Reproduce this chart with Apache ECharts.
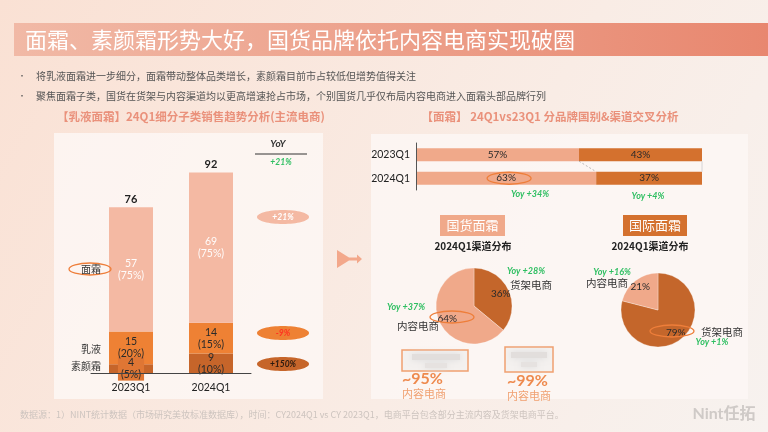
<!DOCTYPE html>
<html><head><meta charset="utf-8">
<script src="https://cdn.jsdelivr.net/npm/echarts@6/dist/echarts.min.js"></script>
<style>html,body{margin:0;padding:0;}#c{width:768px;height:432px;}</style>
</head><body><div id="c"></div>
<script>
// ---- data ----
const categories = ['2023Q1', '2024Q1'];
const suyanValues = [4, 9];
const ruyeValues = [15, 14];
const mianValues = [57, 69];
const suyanPct = [5, 10];
const ruyePct = [20, 15];
const mianPct = [75, 75];
const totals = [76, 92];
const yoyTotal = '+21%';
const yoyMian = '+21%';
const yoyRuye = '-9%';
const yoySuyan = '+150%';

const brandCats = ['2023Q1', '2024Q1'];
const domesticShare = [57, 63];
const intlShare = [43, 37];
const brandYoy = ['Yoy +34%', 'Yoy +4%'];

const pieDomestic = [{ name: '货架电商', value: 36 }, { name: '内容电商', value: 64 }];
const pieIntl = [{ name: '货架电商', value: 79 }, { name: '内容电商', value: 21 }];
const pieDomesticYoy = ['Yoy +28%', 'Yoy +37%'];
const pieIntlYoy = ['Yoy +1%', 'Yoy +16%'];
const contentShare = ['~95%', '~99%'];

const titleText = '面霜、素颜霜形势大好，国货品牌依托内容电商实现破圈';
const bullets = ['将乳液面霜进一步细分，面霜带动整体品类增长，素颜霜目前市占较低但增势值得关注',
  '聚焦面霜子类，国货在货架与内容渠道均以更高增速抢占市场，个别国货几乎仅布局内容电商进入面霜头部品牌行列'];
const footText = '数据源：1）NINT统计数据（市场研究美妆标准数据库），时间：CY2024Q1 vs CY 2023Q1，电商平台包含部分主流内容及货架电商平台。';

// ---- style ----
const CJK = '"Noto Sans CJK SC", "Noto Sans", sans-serif';
const NUM = 'Lato, "Noto Sans CJK SC", sans-serif';
const cMian = '#f4b9a3', cRuye = '#ee8134', cSuyan = '#c6652a';
const cLight = '#f0a98a', cDark = '#d4712e', cDark2 = '#c4662b';
const green = '#2fbf62';

const chart = echarts.init(document.getElementById('c'), null, { renderer: 'canvas' });

function txt(x, y, text, opts) {
  opts = opts || {};
  return {
    type: 'text', x: x, y: y, z: opts.z || 50,
    style: {
      text: text, fill: opts.fill || '#333',
      font: (opts.italic ? 'italic ' : '') + (opts.weight || 'normal') + ' ' + (opts.size || 10) + 'px ' + (opts.family || CJK),
      textAlign: opts.align || 'left', textVerticalAlign: 'middle'
    }
  };
}
function ell(cx, cy, rx, ry, fill, stroke) {
  return {
    type: 'ellipse', z: 40, shape: { cx: cx, cy: cy, rx: rx, ry: ry },
    style: { fill: fill || 'none', stroke: stroke || null, lineWidth: 1.3 }
  };
}

const graphics = [
  // title banner
  { type: 'rect', z: 0, shape: { x: 14, y: 23, width: 754, height: 33 },
    style: { fill: { type: 'linear', x: 0, y: 0, x2: 1, y2: 0, colorStops: [{ offset: 0, color: '#f1b9a6' }, { offset: 1, color: '#e8876f' }] } } },
  txt(25, 40, titleText, { fill: '#fff', size: 22 }),
  txt(18, 76, '•', { fill: '#555', size: 8 }),
  txt(18, 96, '•', { fill: '#555', size: 8 }),
  txt(36, 76, bullets[0], { fill: '#555', size: 10 }),
  txt(36, 96, bullets[1], { fill: '#555', size: 10 }),
  // panels
  { type: 'rect', z: 0, shape: { x: 54, y: 133, width: 269, height: 266 }, style: { fill: 'rgba(253,247,244,0.85)' } },
  { type: 'rect', z: 0, shape: { x: 371, y: 134, width: 377, height: 265 }, style: { fill: 'rgba(253,247,244,0.85)' } },
  txt(191, 117, '【乳液面霜】24Q1细分子类销售趋势分析(主流电商)', { fill: '#ea917b', size: 11.5, weight: 'bold', align: 'center' }),
  txt(550, 117, '【面霜】 24Q1vs23Q1 分品牌国别&渠道交叉分析', { fill: '#ea917b', size: 11.5, weight: 'bold', align: 'center' }),
  // left chart annotations
  txt(278, 144, 'YoY', { fill: '#333', size: 10, weight: 'bold', italic: true, family: NUM, align: 'center' }),
  { type: 'line', z: 40, shape: { x1: 255, y1: 154, x2: 307, y2: 154 }, style: { stroke: '#333', lineWidth: 1 } },
  txt(281, 162, yoyTotal, { fill: green, size: 8.5, weight: 'bold', italic: true, family: NUM, align: 'center' }),
  ell(283, 217, 26, 7, cMian),
  txt(283, 217, yoyMian, { fill: '#fff', size: 8.5, weight: 'bold', italic: true, family: NUM, align: 'center' }),
  ell(283, 333, 26, 7, cRuye),
  txt(283, 333, yoyRuye, { fill: '#ff3322', size: 8.5, weight: 'bold', italic: true, family: NUM, align: 'center' }),
  ell(283, 364, 26, 7, cSuyan),
  txt(283, 364, yoySuyan, { fill: '#2a1a10', size: 8.5, weight: 'bold', italic: true, family: NUM, align: 'center' }),
  ell(90, 269, 21, 6, null, '#ee7e3a'),
  txt(101, 269, '面霜', { fill: '#333', size: 10, align: 'right' }),
  txt(101, 349, '乳液', { fill: '#333', size: 10, align: 'right' }),
  txt(101, 366, '素颜霜', { fill: '#333', size: 10, align: 'right' }),
  // arrow
  { type: 'polygon', z: 30, shape: { points: [[337, 250], [349, 257.5], [357, 257.5], [357, 254.5], [362, 259], [357, 263.5], [357, 260.5], [349, 260.5], [337, 268]] },
    style: { fill: '#f3a88b' } },
  // right bar annotations
  txt(530, 194, brandYoy[0], { fill: green, size: 9, weight: 'bold', italic: true, family: NUM, align: 'center' }),
  txt(648, 196, brandYoy[1], { fill: green, size: 9, weight: 'bold', italic: true, family: NUM, align: 'center' }),
  // tags
  { type: 'rect', z: 20, shape: { x: 440, y: 215, width: 65, height: 21 }, style: { fill: cLight } },
  txt(472.5, 225.5, '国货面霜', { fill: '#fff', size: 13, align: 'center' }),
  txt(473, 246, '2024Q1渠道分布', { fill: '#222', size: 10, weight: 'bold', align: 'center' }),
  { type: 'rect', z: 20, shape: { x: 623, y: 215, width: 64, height: 21 }, style: { fill: cDark } },
  txt(655, 225.5, '国际面霜', { fill: '#fff', size: 13, align: 'center' }),
  txt(650, 246, '2024Q1渠道分布', { fill: '#222', size: 10, weight: 'bold', align: 'center' }),
  // pie annotations
  txt(526, 271, pieDomesticYoy[0], { fill: green, size: 9, weight: 'bold', italic: true, family: NUM, align: 'center' }),
  txt(531, 285, '货架电商', { fill: '#333', size: 10.5, align: 'center' }),
  txt(406, 307, pieDomesticYoy[1], { fill: green, size: 9, weight: 'bold', italic: true, family: NUM, align: 'center' }),
  txt(418, 326, '内容电商', { fill: '#333', size: 10.5, align: 'center' }),
  ell(452, 317, 22, 6, null, '#ee7e3a'),
  txt(612, 272, pieIntlYoy[1], { fill: green, size: 9, weight: 'bold', italic: true, family: NUM, align: 'center' }),
  txt(607, 283, '内容电商', { fill: '#333', size: 10.5, align: 'center' }),
  txt(722, 332, '货架电商', { fill: '#333', size: 10.5, align: 'center' }),
  txt(712, 342, pieIntlYoy[0], { fill: green, size: 9, weight: 'bold', italic: true, family: NUM, align: 'center' }),
  ell(672, 331, 22, 6, null, '#ee7e3a'),
  // blurred logo boxes
  { type: 'rect', z: 20, shape: { x: 402, y: 350, width: 66, height: 21 }, style: { fill: '#f4f1ef', stroke: '#f0a070', lineWidth: 1.5 } },
  { type: 'rect', z: 21, shape: { x: 412, y: 354, width: 48, height: 6 }, style: { fill: '#e2dedc', shadowBlur: 6, shadowColor: '#ddd' } },
  { type: 'rect', z: 21, shape: { x: 425, y: 363, width: 22, height: 5 }, style: { fill: '#e6e2e0', shadowBlur: 6, shadowColor: '#ddd' } },
  { type: 'rect', z: 20, shape: { x: 505, y: 347, width: 48, height: 25 }, style: { fill: '#f4f1ef', stroke: '#f0a070', lineWidth: 1.5 } },
  { type: 'rect', z: 21, shape: { x: 511, y: 352, width: 36, height: 6 }, style: { fill: '#e2dedc', shadowBlur: 6, shadowColor: '#ddd' } },
  { type: 'rect', z: 21, shape: { x: 521, y: 362, width: 16, height: 5 }, style: { fill: '#e6e2e0', shadowBlur: 6, shadowColor: '#ddd' } },
  txt(402, 379, contentShare[0], { fill: '#ee8a4e', size: 16, weight: 'bold', family: NUM }),
  txt(402, 394, '内容电商', { fill: '#f0a070', size: 11 }),
  txt(507, 381, contentShare[1], { fill: '#ee8a4e', size: 16, weight: 'bold', family: NUM }),
  txt(507, 396, '内容电商', { fill: '#f0a070', size: 11 }),
  // footer
  txt(20, 415, footText, { fill: '#cdc4bf', size: 9 }),
  txt(724, 414, 'Nint任拓', { fill: '#cfcac7', size: 16, weight: 'bold', family: NUM, align: 'center' })
];

function segLabel(vals, pcts, color) {
  return {
    show: true, position: 'inside', color: color, fontSize: 10.5, lineHeight: 12, fontFamily: NUM,
    formatter: p => vals[p.dataIndex] + '\n(' + pcts[p.dataIndex] + '%)'
  };
}

// nudge pie inside labels outward along each slice's mid angle
function pieLabelLayout(data, radius) {
  const sum = data.reduce((s, d) => s + d.value, 0);
  return function (params) {
    let acc = 0;
    for (let i = 0; i < params.dataIndex; i++) acc += data[i].value;
    const mid = (acc + data[params.dataIndex].value / 2) / sum * Math.PI * 2;
    const k = 0.1 * radius;
    return { dx: Math.sin(mid) * k, dy: -Math.cos(mid) * k };
  };
}

const option = {
  backgroundColor: { type: 'linear', x: 0, y: 0, x2: 1, y2: 1, colorStops: [{ offset: 0, color: '#fae1d4' }, { offset: 0.6, color: '#f9ece5' }, { offset: 1, color: '#f7f2ef' }] },
  animation: false,
  grid: [
    { left: 91, right: 517, top: 155, bottom: 59 },
    { left: 416, right: 66, top: 143, bottom: 242 }
  ],
  xAxis: [
    { gridIndex: 0, type: 'category', data: categories, axisTick: { show: false }, z: 10,
      axisLine: { lineStyle: { color: '#444', width: 1 } },
      axisLabel: { color: '#222', fontSize: 10.5, margin: 9, fontFamily: NUM } },
    { gridIndex: 1, type: 'value', min: 0, max: 100, show: false }
  ],
  yAxis: [
    { gridIndex: 0, type: 'value', min: 0, max: 100, show: false },
    { gridIndex: 1, type: 'category', data: brandCats, inverse: true, axisTick: { show: false }, z: 10,
      axisLine: { lineStyle: { color: '#555', width: 1 } },
      axisLabel: { color: '#222', fontSize: 10.5, margin: 6, fontFamily: NUM } }
  ],
  series: [
    { type: 'bar', xAxisIndex: 0, yAxisIndex: 0, stack: 'a', barWidth: 44, name: '素颜霜', z: 5,
      data: suyanValues.map((v, i) => i === 0 ? { value: v, label: { backgroundColor: '#df7634', padding: [0, 3] } } : v),
      itemStyle: { color: cSuyan }, label: segLabel(suyanValues, suyanPct, '#2a2a2a') },
    { type: 'bar', xAxisIndex: 0, yAxisIndex: 0, stack: 'a', barWidth: 44, name: '乳液', z: 5,
      data: ruyeValues, itemStyle: { color: cRuye }, label: segLabel(ruyeValues, ruyePct, '#2a2a2a') },
    { type: 'bar', xAxisIndex: 0, yAxisIndex: 0, stack: 'a', barWidth: 44, name: '面霜', z: 5,
      data: mianValues, itemStyle: { color: cMian }, label: segLabel(mianValues, mianPct, 'rgba(255,255,255,0.95)') },
    { type: 'bar', xAxisIndex: 0, yAxisIndex: 0, stack: 'a', barWidth: 44, name: 'total', z: 5,
      data: totals.map(() => 0), itemStyle: { color: 'transparent' },
      label: { show: true, position: 'top', distance: 2, color: '#222', fontSize: 11, fontWeight: 'bold', fontFamily: NUM,
        formatter: p => totals[p.dataIndex] } },
    { type: 'bar', xAxisIndex: 1, yAxisIndex: 1, stack: 'b', barWidth: 13, name: '国货', z: 5,
      data: domesticShare, itemStyle: { color: cLight },
      label: { show: true, position: 'inside', color: '#2a2a2a', fontSize: 10, fontFamily: NUM, formatter: '{c}%' } },
    { type: 'bar', xAxisIndex: 1, yAxisIndex: 1, stack: 'b', barWidth: 13, name: '国际', z: 5,
      data: intlShare, itemStyle: { color: cDark },
      label: { show: true, position: 'inside', color: '#2a2a2a', fontSize: 10, fontFamily: NUM, formatter: '{c}%' } },
    { type: 'pie', center: [474, 306], radius: [0, 38], startAngle: 90, clockwise: true, z: 5,
      data: pieDomestic, color: [cDark2, cLight], labelLine: { show: false },
      itemStyle: { borderColor: 'rgba(255,255,255,0.6)', borderWidth: 0.5 },
      labelLayout: pieLabelLayout(pieDomestic, 38),
      label: { show: true, position: 'inside', color: '#2a2a2a', fontSize: 10, fontFamily: NUM, formatter: '{c}%' } },
    { type: 'pie', center: [658, 310], radius: [0, 37], startAngle: 90, clockwise: true, z: 5,
      data: pieIntl, color: [cDark, cLight], labelLine: { show: false },
      itemStyle: { borderColor: 'rgba(255,255,255,0.6)', borderWidth: 0.5 },
      labelLayout: pieLabelLayout(pieIntl, 37),
      label: { show: true, position: 'inside', color: '#2a2a2a', fontSize: 10, fontFamily: NUM, formatter: '{c}%' } }
  ],
  graphic: graphics
};
chart.setOption(option);

// connector lines between the brand share bars
const halfBar = 6.5;
const p23 = chart.convertToPixel({ gridIndex: 1 }, [domesticShare[0], brandCats[0]]);
const p24 = chart.convertToPixel({ gridIndex: 1 }, [domesticShare[1], brandCats[1]]);
const e23 = chart.convertToPixel({ gridIndex: 1 }, [100, brandCats[0]]);
const e24 = chart.convertToPixel({ gridIndex: 1 }, [100, brandCats[1]]);
graphics.push(
  { type: 'line', z: 45, shape: { x1: p23[0], y1: p23[1] + halfBar, x2: p24[0], y2: p24[1] - halfBar },
    style: { stroke: '#aaa', lineWidth: 0.8, lineDash: [2, 2] } },
  { type: 'line', z: 45, shape: { x1: e23[0], y1: e23[1] + halfBar, x2: e24[0], y2: e24[1] - halfBar },
    style: { stroke: '#ccc', lineWidth: 0.8 } },
  ell((p24[0] + 416) / 2 + 3, p24[1], 22, 6, null, '#ee7e3a')
);
chart.setOption({ graphic: graphics });
</script></body></html>
